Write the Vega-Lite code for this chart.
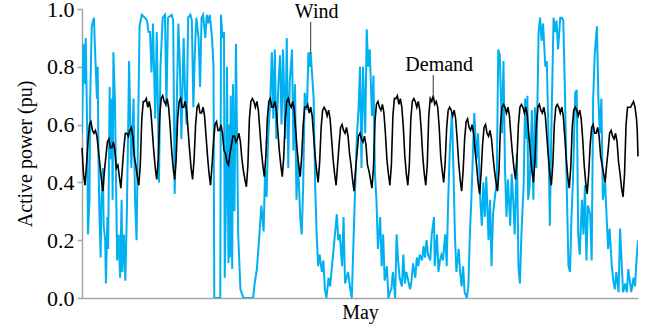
{
"$schema": "https://vega.github.io/schema/vega-lite/v6.json",
"width": 556, "height": 289,
"autosize": {"type": "none"},
"padding": {"left": 82, "top": 9, "right": 22, "bottom": 33},
"background": "white",
"config": {"view": {"stroke": null}, "font": "Liberation Serif", "axis": {"grid": false}},
"datasets": {
"wind": [
{"h":0,"v":0.57},{"h":2,"v":0.88},{"h":4,"v":0.74},{"h":5,"v":0.90},{"h":7,"v":0.57},{"h":8,"v":0.22},{"h":10,"v":0.34},{"h":11,"v":0.69},{"h":13,"v":0.94},{"h":16,"v":0.97},{"h":17,"v":0.89},{"h":20,"v":0.69},{"h":21,"v":0.80},{"h":22,"v":0.51},{"h":23,"v":0.32},{"h":25,"v":0.14},{"h":26,"v":0.34},{"h":28,"v":0.45},{"h":29,"v":0.25},{"h":31,"v":0.20},{"h":32,"v":0.05},{"h":34,"v":0.28},{"h":35,"v":0.17},{"h":37,"v":0.73},{"h":38,"v":0.48},{"h":40,"v":0.69},{"h":41,"v":0.34},{"h":42,"v":0.85},{"h":44,"v":0.69},{"h":45,"v":0.51},{"h":47,"v":0.13},{"h":49,"v":0.22},{"h":51,"v":0.07},{"h":53,"v":0.34},{"h":54,"v":0.09},{"h":56,"v":0.22},{"h":58,"v":0.06},{"h":60,"v":0.29},{"h":62,"v":0.63},{"h":63,"v":0.82},{"h":65,"v":0.57},{"h":66,"v":0.45},{"h":69,"v":0.69},{"h":71,"v":0.34},{"h":73,"v":0.20},{"h":75,"v":0.57},{"h":77,"v":0.94},{"h":80,"v":0.98},{"h":84,"v":0.97},{"h":87,"v":0.96},{"h":89,"v":0.92},{"h":91,"v":0.92},{"h":93,"v":0.78},{"h":95,"v":0.95},{"h":98,"v":0.62},{"h":100,"v":0.92},{"h":102,"v":0.60},{"h":103,"v":0.40},{"h":105,"v":0.80},{"h":108,"v":0.97},{"h":111,"v":0.98},{"h":113,"v":0.66},{"h":115,"v":0.97},{"h":120,"v":0.98},{"h":122,"v":0.96},{"h":124,"v":0.36},{"h":127,"v":0.70},{"h":129,"v":0.95},{"h":131,"v":0.80},{"h":133,"v":0.55},{"h":136,"v":0.90},{"h":138,"v":0.70},{"h":140,"v":0.60},{"h":142,"v":0.97},{"h":145,"v":0.98},{"h":147,"v":0.96},{"h":149,"v":0.66},{"h":151,"v":0.85},{"h":153,"v":0.97},{"h":156,"v":0.90},{"h":158,"v":0.73},{"h":160,"v":0.97},{"h":162,"v":0.98},{"h":165,"v":0.90},{"h":167,"v":0.98},{"h":169,"v":0.95},{"h":171,"v":0.98},{"h":174,"v":0.90},{"h":176,"v":0.80},{"h":177,"v":0.0},{"h":185,"v":0.0},{"h":186,"v":0.98},{"h":188,"v":0.90},{"h":190,"v":0.92},{"h":191,"v":0.07},{"h":193,"v":0.40},{"h":194,"v":0.80},{"h":196,"v":0.12},{"h":197,"v":0.60},{"h":198,"v":0.14},{"h":199,"v":0.70},{"h":201,"v":0.10},{"h":202,"v":0.74},{"h":204,"v":0.30},{"h":206,"v":0.88},{"h":207,"v":0.65},{"h":208,"v":0.45},{"h":209,"v":0.22},{"h":212,"v":0.03},{"h":216,"v":0.0},{"h":229,"v":0.0},{"h":231,"v":0.05},{"h":234,"v":0.10},{"h":236,"v":0.17},{"h":238,"v":0.24},{"h":240,"v":0.32},{"h":243,"v":0.23},{"h":245,"v":0.44},{"h":247,"v":0.35},{"h":249,"v":0.55},{"h":252,"v":0.69},{"h":254,"v":0.85},{"h":256,"v":0.62},{"h":258,"v":0.86},{"h":260,"v":0.55},{"h":263,"v":0.75},{"h":265,"v":0.84},{"h":267,"v":0.60},{"h":269,"v":0.86},{"h":272,"v":0.55},{"h":274,"v":0.90},{"h":276,"v":0.45},{"h":278,"v":0.75},{"h":281,"v":0.86},{"h":283,"v":0.51},{"h":285,"v":0.74},{"h":287,"v":0.34},{"h":289,"v":0.48},{"h":292,"v":0.28},{"h":294,"v":0.22},{"h":296,"v":0.39},{"h":298,"v":0.71},{"h":301,"v":0.65},{"h":303,"v":0.85},{"h":305,"v":0.80},{"h":306,"v":0.85},{"h":310,"v":0.69},{"h":312,"v":0.39},{"h":314,"v":0.22},{"h":316,"v":0.11},{"h":318,"v":0.15},{"h":321,"v":0.09},{"h":323,"v":0.13},{"h":325,"v":0.03},{"h":327,"v":0.0},{"h":330,"v":0.07},{"h":332,"v":0.04},{"h":336,"v":0.15},{"h":341,"v":0.29},{"h":343,"v":0.20},{"h":345,"v":0.22},{"h":348,"v":0.11},{"h":350,"v":0.28},{"h":352,"v":0.05},{"h":356,"v":0.09},{"h":359,"v":0.03},{"h":361,"v":0.0},{"h":363,"v":0.17},{"h":365,"v":0.34},{"h":368,"v":0.57},{"h":370,"v":0.65},{"h":372,"v":0.80},{"h":374,"v":0.45},{"h":376,"v":0.80},{"h":379,"v":0.57},{"h":381,"v":0.93},{"h":383,"v":0.80},{"h":385,"v":0.86},{"h":388,"v":0.63},{"h":390,"v":0.77},{"h":392,"v":0.43},{"h":394,"v":0.34},{"h":396,"v":0.17},{"h":399,"v":0.28},{"h":401,"v":0.11},{"h":403,"v":0.22},{"h":405,"v":0.06},{"h":408,"v":0.11},{"h":410,"v":0.0},{"h":412,"v":0.02},{"h":414,"v":0.03},{"h":416,"v":0.09},{"h":419,"v":0.0},{"h":421,"v":0.22},{"h":423,"v":0.13},{"h":425,"v":0.07},{"h":428,"v":0.04},{"h":430,"v":0.15},{"h":432,"v":0.05},{"h":434,"v":0.09},{"h":439,"v":0.03},{"h":441,"v":0.06},{"h":443,"v":0.12},{"h":446,"v":0.07},{"h":448,"v":0.14},{"h":450,"v":0.11},{"h":452,"v":0.15},{"h":455,"v":0.13},{"h":457,"v":0.18},{"h":459,"v":0.14},{"h":461,"v":0.20},{"h":463,"v":0.15},{"h":466,"v":0.13},{"h":468,"v":0.22},{"h":471,"v":0.28},{"h":472,"v":0.11},{"h":475,"v":0.22},{"h":477,"v":0.09},{"h":479,"v":0.13},{"h":481,"v":0.15},{"h":483,"v":0.13},{"h":486,"v":0.22},{"h":488,"v":0.11},{"h":490,"v":0.34},{"h":492,"v":0.50},{"h":495,"v":0.64},{"h":497,"v":0.45},{"h":499,"v":0.22},{"h":501,"v":0.09},{"h":504,"v":0.17},{"h":506,"v":0.09},{"h":508,"v":0.04},{"h":510,"v":0.11},{"h":512,"v":0.02},{"h":515,"v":0.0},{"h":517,"v":0.04},{"h":519,"v":0.22},{"h":521,"v":0.34},{"h":524,"v":0.57},{"h":525,"v":0.64},{"h":528,"v":0.48},{"h":530,"v":0.57},{"h":533,"v":0.34},{"h":535,"v":0.25},{"h":537,"v":0.40},{"h":539,"v":0.28},{"h":541,"v":0.42},{"h":544,"v":0.20},{"h":546,"v":0.34},{"h":548,"v":0.11},{"h":550,"v":0.29},{"h":553,"v":0.36},{"h":555,"v":0.40},{"h":557,"v":0.86},{"h":559,"v":0.84},{"h":562,"v":0.57},{"h":564,"v":0.82},{"h":566,"v":0.45},{"h":568,"v":0.28},{"h":570,"v":0.41},{"h":573,"v":0.25},{"h":575,"v":0.43},{"h":577,"v":0.34},{"h":579,"v":0.22},{"h":582,"v":0.50},{"h":584,"v":0.11},{"h":586,"v":0.05},{"h":588,"v":0.22},{"h":591,"v":0.39},{"h":593,"v":0.69},{"h":595,"v":0.55},{"h":596,"v":0.70},{"h":597,"v":0.34},{"h":599,"v":0.39},{"h":602,"v":0.65},{"h":604,"v":0.34},{"h":606,"v":0.66},{"h":608,"v":0.45},{"h":611,"v":0.92},{"h":613,"v":0.97},{"h":615,"v":0.89},{"h":617,"v":0.95},{"h":620,"v":0.80},{"h":622,"v":0.82},{"h":624,"v":0.59},{"h":626,"v":0.25},{"h":628,"v":0.57},{"h":631,"v":0.97},{"h":633,"v":0.92},{"h":635,"v":0.96},{"h":637,"v":0.86},{"h":640,"v":0.97},{"h":642,"v":0.97},{"h":644,"v":0.96},{"h":646,"v":0.74},{"h":649,"v":0.34},{"h":651,"v":0.11},{"h":653,"v":0.09},{"h":655,"v":0.28},{"h":657,"v":0.41},{"h":660,"v":0.71},{"h":662,"v":0.72},{"h":664,"v":0.22},{"h":666,"v":0.15},{"h":669,"v":0.34},{"h":671,"v":0.22},{"h":673,"v":0.39},{"h":675,"v":0.13},{"h":677,"v":0.32},{"h":680,"v":0.29},{"h":682,"v":0.13},{"h":684,"v":0.69},{"h":686,"v":0.84},{"h":689,"v":0.94},{"h":691,"v":0.69},{"h":693,"v":0.57},{"h":695,"v":0.69},{"h":697,"v":0.34},{"h":700,"v":0.40},{"h":702,"v":0.28},{"h":704,"v":0.17},{"h":706,"v":0.24},{"h":709,"v":0.11},{"h":711,"v":0.06},{"h":713,"v":0.03},{"h":715,"v":0.09},{"h":718,"v":0.02},{"h":720,"v":0.24},{"h":722,"v":0.13},{"h":724,"v":0.02},{"h":727,"v":0.05},{"h":729,"v":0.02},{"h":731,"v":0.10},{"h":733,"v":0.06},{"h":735,"v":0.02},{"h":738,"v":0.07},{"h":740,"v":0.04},{"h":742,"v":0.13},{"h":744,"v":0.20}
],
"demand": [
{"h":0,"v":0.52},{"h":2,"v":0.43},{"h":4,"v":0.39},{"h":6,"v":0.46},{"h":8,"v":0.54},{"h":10,"v":0.60},{"h":12,"v":0.61},{"h":14,"v":0.58},{"h":16,"v":0.57},{"h":18,"v":0.58},{"h":20,"v":0.56},{"h":22,"v":0.51},
{"h":24,"v":0.46},{"h":26,"v":0.41},{"h":28,"v":0.37},{"h":30,"v":0.44},{"h":32,"v":0.49},{"h":34,"v":0.54},{"h":36,"v":0.55},{"h":38,"v":0.52},{"h":40,"v":0.52},{"h":42,"v":0.54},{"h":44,"v":0.51},{"h":46,"v":0.45},
{"h":48,"v":0.46},{"h":50,"v":0.42},{"h":52,"v":0.38},{"h":54,"v":0.45},{"h":56,"v":0.52},{"h":58,"v":0.57},{"h":60,"v":0.57},{"h":62,"v":0.56},{"h":64,"v":0.58},{"h":66,"v":0.59},{"h":68,"v":0.56},{"h":70,"v":0.49},
{"h":72,"v":0.46},{"h":74,"v":0.42},{"h":76,"v":0.39},{"h":78,"v":0.46},{"h":80,"v":0.62},{"h":82,"v":0.68},{"h":84,"v":0.68},{"h":86,"v":0.69},{"h":88,"v":0.66},{"h":90,"v":0.68},{"h":92,"v":0.65},{"h":94,"v":0.58},
{"h":96,"v":0.51},{"h":98,"v":0.45},{"h":100,"v":0.41},{"h":102,"v":0.48},{"h":104,"v":0.63},{"h":106,"v":0.69},{"h":108,"v":0.70},{"h":110,"v":0.68},{"h":112,"v":0.67},{"h":114,"v":0.69},{"h":116,"v":0.66},{"h":118,"v":0.59},
{"h":120,"v":0.51},{"h":122,"v":0.45},{"h":124,"v":0.41},{"h":126,"v":0.48},{"h":128,"v":0.62},{"h":130,"v":0.68},{"h":132,"v":0.69},{"h":134,"v":0.66},{"h":136,"v":0.66},{"h":138,"v":0.68},{"h":140,"v":0.65},{"h":142,"v":0.58},
{"h":144,"v":0.51},{"h":146,"v":0.45},{"h":148,"v":0.41},{"h":150,"v":0.48},{"h":152,"v":0.60},{"h":154,"v":0.66},{"h":156,"v":0.67},{"h":158,"v":0.64},{"h":160,"v":0.64},{"h":162,"v":0.66},{"h":164,"v":0.63},{"h":166,"v":0.56},
{"h":168,"v":0.49},{"h":170,"v":0.43},{"h":172,"v":0.39},{"h":174,"v":0.46},{"h":176,"v":0.54},{"h":178,"v":0.60},{"h":180,"v":0.61},{"h":182,"v":0.58},{"h":184,"v":0.58},{"h":186,"v":0.60},{"h":188,"v":0.57},{"h":190,"v":0.51},
{"h":192,"v":0.50},{"h":194,"v":0.47},{"h":196,"v":0.46},{"h":198,"v":0.50},{"h":200,"v":0.53},{"h":202,"v":0.56},{"h":204,"v":0.56},{"h":206,"v":0.54},{"h":208,"v":0.55},{"h":210,"v":0.57},{"h":212,"v":0.54},{"h":214,"v":0.48},
{"h":216,"v":0.44},{"h":218,"v":0.41},{"h":220,"v":0.385},{"h":222,"v":0.46},{"h":224,"v":0.62},{"h":226,"v":0.68},{"h":228,"v":0.69},{"h":230,"v":0.68},{"h":232,"v":0.66},{"h":234,"v":0.68},{"h":236,"v":0.65},{"h":238,"v":0.58},
{"h":240,"v":0.51},{"h":242,"v":0.46},{"h":244,"v":0.42},{"h":246,"v":0.49},{"h":248,"v":0.62},{"h":250,"v":0.68},{"h":252,"v":0.69},{"h":254,"v":0.66},{"h":256,"v":0.66},{"h":258,"v":0.68},{"h":260,"v":0.65},{"h":262,"v":0.58},
{"h":264,"v":0.51},{"h":266,"v":0.46},{"h":268,"v":0.42},{"h":270,"v":0.49},{"h":272,"v":0.62},{"h":274,"v":0.68},{"h":276,"v":0.69},{"h":278,"v":0.67},{"h":280,"v":0.66},{"h":282,"v":0.68},{"h":284,"v":0.65},{"h":286,"v":0.58},
{"h":288,"v":0.51},{"h":290,"v":0.46},{"h":292,"v":0.42},{"h":294,"v":0.49},{"h":296,"v":0.60},{"h":298,"v":0.66},{"h":300,"v":0.66},{"h":302,"v":0.67},{"h":304,"v":0.64},{"h":306,"v":0.66},{"h":308,"v":0.63},{"h":310,"v":0.56},
{"h":312,"v":0.49},{"h":314,"v":0.44},{"h":316,"v":0.40},{"h":318,"v":0.47},{"h":320,"v":0.59},{"h":322,"v":0.65},{"h":324,"v":0.66},{"h":326,"v":0.65},{"h":328,"v":0.63},{"h":330,"v":0.65},{"h":332,"v":0.62},{"h":334,"v":0.55},
{"h":336,"v":0.48},{"h":338,"v":0.43},{"h":340,"v":0.39},{"h":342,"v":0.46},{"h":344,"v":0.53},{"h":346,"v":0.59},{"h":348,"v":0.60},{"h":350,"v":0.58},{"h":352,"v":0.57},{"h":354,"v":0.59},{"h":356,"v":0.56},{"h":358,"v":0.50},
{"h":360,"v":0.46},{"h":362,"v":0.41},{"h":364,"v":0.37},{"h":366,"v":0.44},{"h":368,"v":0.50},{"h":370,"v":0.56},{"h":372,"v":0.57},{"h":374,"v":0.55},{"h":376,"v":0.54},{"h":378,"v":0.56},{"h":380,"v":0.53},{"h":382,"v":0.46},
{"h":384,"v":0.44},{"h":386,"v":0.41},{"h":388,"v":0.38},{"h":390,"v":0.45},{"h":392,"v":0.61},{"h":394,"v":0.67},{"h":396,"v":0.68},{"h":398,"v":0.66},{"h":400,"v":0.65},{"h":402,"v":0.67},{"h":404,"v":0.64},{"h":406,"v":0.57},
{"h":408,"v":0.48},{"h":410,"v":0.43},{"h":412,"v":0.39},{"h":414,"v":0.46},{"h":416,"v":0.63},{"h":418,"v":0.69},{"h":420,"v":0.69},{"h":422,"v":0.70},{"h":424,"v":0.67},{"h":426,"v":0.69},{"h":428,"v":0.66},{"h":430,"v":0.59},
{"h":432,"v":0.49},{"h":434,"v":0.43},{"h":436,"v":0.39},{"h":438,"v":0.46},{"h":440,"v":0.62},{"h":442,"v":0.68},{"h":444,"v":0.69},{"h":446,"v":0.68},{"h":448,"v":0.66},{"h":450,"v":0.68},{"h":452,"v":0.65},{"h":454,"v":0.58},
{"h":456,"v":0.49},{"h":458,"v":0.43},{"h":460,"v":0.39},{"h":462,"v":0.46},{"h":464,"v":0.63},{"h":466,"v":0.69},{"h":468,"v":0.68},{"h":470,"v":0.70},{"h":472,"v":0.67},{"h":474,"v":0.68},{"h":476,"v":0.66},{"h":478,"v":0.59},
{"h":480,"v":0.49},{"h":482,"v":0.44},{"h":484,"v":0.40},{"h":486,"v":0.47},{"h":488,"v":0.59},{"h":490,"v":0.65},{"h":492,"v":0.66},{"h":494,"v":0.65},{"h":496,"v":0.63},{"h":498,"v":0.65},{"h":500,"v":0.62},{"h":502,"v":0.55},
{"h":504,"v":0.47},{"h":506,"v":0.41},{"h":508,"v":0.37},{"h":510,"v":0.44},{"h":512,"v":0.55},{"h":514,"v":0.61},{"h":516,"v":0.62},{"h":518,"v":0.59},{"h":520,"v":0.58},{"h":522,"v":0.60},{"h":524,"v":0.57},{"h":526,"v":0.51},
{"h":528,"v":0.46},{"h":530,"v":0.40},{"h":532,"v":0.36},{"h":534,"v":0.43},{"h":536,"v":0.53},{"h":538,"v":0.59},{"h":540,"v":0.60},{"h":542,"v":0.57},{"h":544,"v":0.56},{"h":546,"v":0.58},{"h":548,"v":0.55},{"h":550,"v":0.49},
{"h":552,"v":0.44},{"h":554,"v":0.40},{"h":556,"v":0.37},{"h":558,"v":0.44},{"h":560,"v":0.60},{"h":562,"v":0.66},{"h":564,"v":0.67},{"h":566,"v":0.66},{"h":568,"v":0.64},{"h":570,"v":0.66},{"h":572,"v":0.63},{"h":574,"v":0.56},
{"h":576,"v":0.50},{"h":578,"v":0.45},{"h":580,"v":0.41},{"h":582,"v":0.48},{"h":584,"v":0.60},{"h":586,"v":0.66},{"h":588,"v":0.67},{"h":590,"v":0.66},{"h":592,"v":0.64},{"h":594,"v":0.66},{"h":596,"v":0.63},{"h":598,"v":0.56},
{"h":600,"v":0.50},{"h":602,"v":0.44},{"h":604,"v":0.40},{"h":606,"v":0.47},{"h":608,"v":0.60},{"h":610,"v":0.66},{"h":612,"v":0.67},{"h":614,"v":0.65},{"h":616,"v":0.64},{"h":618,"v":0.66},{"h":620,"v":0.63},{"h":622,"v":0.56},
{"h":624,"v":0.49},{"h":626,"v":0.43},{"h":628,"v":0.39},{"h":630,"v":0.46},{"h":632,"v":0.60},{"h":634,"v":0.66},{"h":636,"v":0.67},{"h":638,"v":0.66},{"h":640,"v":0.64},{"h":642,"v":0.66},{"h":644,"v":0.63},{"h":646,"v":0.56},
{"h":648,"v":0.48},{"h":650,"v":0.42},{"h":652,"v":0.38},{"h":654,"v":0.45},{"h":656,"v":0.59},{"h":658,"v":0.65},{"h":660,"v":0.66},{"h":662,"v":0.65},{"h":664,"v":0.63},{"h":666,"v":0.65},{"h":668,"v":0.62},{"h":670,"v":0.55},
{"h":672,"v":0.46},{"h":674,"v":0.40},{"h":676,"v":0.36},{"h":678,"v":0.43},{"h":680,"v":0.53},{"h":682,"v":0.59},{"h":684,"v":0.60},{"h":686,"v":0.57},{"h":688,"v":0.57},{"h":690,"v":0.59},{"h":692,"v":0.56},{"h":694,"v":0.49},
{"h":696,"v":0.46},{"h":698,"v":0.43},{"h":700,"v":0.40},{"h":702,"v":0.46},{"h":704,"v":0.51},{"h":706,"v":0.57},{"h":708,"v":0.58},{"h":710,"v":0.56},{"h":712,"v":0.55},{"h":714,"v":0.57},{"h":716,"v":0.54},{"h":718,"v":0.47},
{"h":720,"v":0.43},{"h":722,"v":0.38},{"h":724,"v":0.35},{"h":726,"v":0.43},{"h":728,"v":0.60},{"h":730,"v":0.66},{"h":732,"v":0.66},{"h":734,"v":0.66},{"h":736,"v":0.67},{"h":738,"v":0.68},{"h":740,"v":0.66},{"h":742,"v":0.62},{"h":743,"v":0.58},{"h":744,"v":0.49}
],
"labels": [
{"label":"Wind","tx":314,"ty":0.99,"lx":306,"y1":0.955,"y2":0.845},
{"label":"Demand","tx":478,"ty":0.806,"lx":470,"y1":0.772,"y2":0.69}
]
},
"layer": [
{"data": {"name": "wind"},
 "mark": {"type": "line", "color": "#00B0F0", "strokeWidth": 2, "clip": true},
 "encoding": {
  "x": {"field": "h", "type": "quantitative", "scale": {"domain": [0, 744], "nice": false},
        "axis": {"title": "May", "labels": false, "ticks": false, "domainColor": "#a6a6a6", "domainWidth": 1.5,
                 "titleFontSize": 20, "titleFont": "Liberation Serif", "titleFontWeight": "normal", "titleColor": "black", "titlePadding": 4}},
  "y": {"field": "v", "type": "quantitative", "scale": {"domain": [0, 1], "nice": false},
        "axis": {"title": "Active power (pu)", "values": [0, 0.2, 0.4, 0.6, 0.8, 1.0], "format": ".1f",
                 "labelFontSize": 22, "labelFont": "Liberation Serif", "labelColor": "black", "labelPadding": 3,
                 "tickColor": "#a6a6a6", "tickSize": 5, "tickWidth": 1.5, "domainColor": "#a6a6a6", "domainWidth": 1.5,
                 "titleFontSize": 20, "titleFont": "Liberation Serif", "titleFontWeight": "normal", "titleColor": "black",
                 "titleX": -57, "titleY": 144.5, "titleAngle": -90, "titleAlign": "center", "titleBaseline": "middle"}}
 }},
{"data": {"name": "demand"},
 "mark": {"type": "line", "color": "black", "strokeWidth": 1.6},
 "encoding": {
  "x": {"field": "h", "type": "quantitative"},
  "y": {"field": "v", "type": "quantitative"}
 }},
{"data": {"name": "labels"},
 "mark": {"type": "rule", "color": "#333333", "strokeWidth": 1},
 "encoding": {
  "x": {"field": "lx", "type": "quantitative"},
  "y": {"field": "y1", "type": "quantitative"},
  "y2": {"field": "y2"}
 }},
{"data": {"name": "labels"},
 "mark": {"type": "text", "fontSize": 20, "font": "Liberation Serif", "color": "black", "baseline": "middle", "align": "center"},
 "encoding": {
  "x": {"field": "tx", "type": "quantitative"},
  "y": {"field": "ty", "type": "quantitative"},
  "text": {"field": "label"}
 }}
]
}
